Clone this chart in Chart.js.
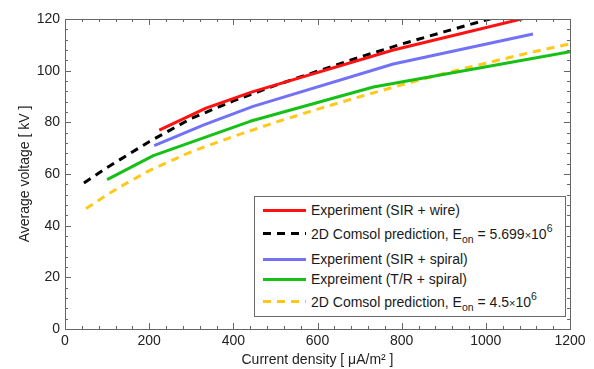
<!DOCTYPE html>
<html>
<head>
<meta charset="utf-8">
<script src="https://cdn.jsdelivr.net/npm/chart.js@4/dist/chart.umd.min.js"></script>
<style>
  html, body { margin: 0; padding: 0; background: #fff; }
  #wrap { position: relative; width: 594px; height: 369px; font-family: "Liberation Sans", Arial, sans-serif; }
  #c { position: absolute; left: 0; top: 0; }
  #legend { position: absolute; left: 254px; top: 196px; width: 310px; height: 119px; border: 1px solid #6a6a6a; background: #fff; color: #1a1a1a; font-size: 14px; }
  .row { position: absolute; left: 0; height: 20px; width: 310px; }
  .sw { position: absolute; left: 8px; width: 43px; height: 3px; top: 8.5px; }
  .lbl { position: absolute; left: 56px; top: 1px; white-space: nowrap; line-height: 18px; }
  sub { font-size: 10.5px; vertical-align: -4px; line-height: 0; }
  sup { font-size: 10.5px; vertical-align: 7px; line-height: 0; }
  .times { font-size: 11px; }
</style>
</head>
<body>
<div id="wrap">
  <canvas id="c" width="594" height="369"></canvas>
  <div id="legend"></div>
</div>
<script>
// ---- data ----
const xTicks = [0, 200, 400, 600, 800, 1000, 1200];
const yTicks = [0, 20, 40, 60, 80, 100, 120];

const sirWireX = [224, 335, 445, 780, 1110];
const sirWireY = [77, 85.5, 91.8, 108, 121];

const comsol1X = [45, 100, 150, 200, 250, 300, 400, 500, 600, 700, 800, 900, 1000, 1100];
const comsol1Y = [56.5, 62.5, 67.5, 72.5, 77, 81.5, 88.3, 94.3, 99.8, 105.2, 110.3, 115, 119.6, 124];

const sirSpiralX = [212, 330, 447, 780, 1112];
const sirSpiralY = [71, 79, 86.2, 102.6, 114.2];

const trSpiralX = [100, 210, 440, 733, 1200];
const trSpiralY = [57.8, 67.1, 80.4, 93.7, 107.3];

const comsol2X = [50, 100, 150, 200, 300, 400, 500, 600, 700, 800, 900, 1000, 1100, 1200];
const comsol2Y = [46.6, 52, 56.8, 61.3, 68.6, 74.5, 80, 85.1, 89.9, 94.5, 98.9, 102.9, 106.8, 110.4];

const seriesNames = [
  'Experiment (SIR + wire)',
  '2D Comsol prediction, E<sub>on</sub> = 5.699<span class="times">×</span>10<sup>6</sup>',
  'Experiment (SIR + spiral)',
  'Expreiment (T/R + spiral)',
  '2D Comsol prediction, E<sub>on</sub> = 4.5<span class="times">×</span>10<sup>6</sup>'
];
const seriesColors = ['#ff1111', '#000000', '#7272f6', '#16c016', '#ffc81a'];
const seriesDashed = [false, true, false, false, true];

const xTitle = 'Current density [ μA/m² ]';
const yTitle = 'Average voltage [ kV ]';

// ---- build ----
function pts(xs, ys) { return xs.map((x, i) => ({ x: x, y: ys[i] })); }
const allX = [sirWireX, comsol1X, sirSpiralX, trSpiralX, comsol2X];
const allY = [sirWireY, comsol1Y, sirSpiralY, trSpiralY, comsol2Y];

const datasets = allX.map((xs, i) => ({
  label: seriesNames[i],
  data: pts(xs, allY[i]),
  borderColor: seriesColors[i],
  backgroundColor: seriesColors[i],
  borderWidth: 3,
  borderDash: seriesDashed[i] ? [8, 6] : [],
  pointRadius: 0,
  showLine: true,
  fill: false,
  tension: 0,
  borderCapStyle: 'butt',
  borderJoinStyle: 'round'
}));

const frameTicks = {
  id: 'frameTicks',
  afterDatasetsDraw(chart) {
    const { ctx, chartArea: a, scales } = chart;
    const xs = scales.x, ys = scales.y;
    ctx.save();
    ctx.strokeStyle = '#666';
    ctx.lineWidth = 1;
    ctx.beginPath();
    for (let v = 0; v <= 1200; v += 40) {
      const px = Math.round(xs.getPixelForValue(v)) + 0.5;
      const len = (v % 200 === 0) ? 6 : 3;
      ctx.moveTo(px, a.bottom); ctx.lineTo(px, a.bottom - len);
      ctx.moveTo(px, a.top); ctx.lineTo(px, a.top + len);
    }
    for (let v = 0; v <= 120; v += 4) {
      const py = Math.round(ys.getPixelForValue(v)) + 0.5;
      const len = (v % 20 === 0) ? 6 : 3;
      ctx.moveTo(a.left, py); ctx.lineTo(a.left + len, py);
      ctx.moveTo(a.right, py); ctx.lineTo(a.right - len, py);
    }
    ctx.stroke();
    ctx.strokeRect(Math.round(a.left) + 0.5, Math.round(a.top) + 0.5, Math.round(a.right - a.left), Math.round(a.bottom - a.top));
    ctx.restore();
  }
};

const font = { family: '"Liberation Sans", Arial, sans-serif', size: 14 };

new Chart(document.getElementById('c'), {
  type: 'scatter',
  data: { datasets },
  options: {
    responsive: false,
    animation: false,
    devicePixelRatio: 1,
    layout: { padding: { top: 19, right: 24, bottom: 0, left: 0 } },
    plugins: { legend: { display: false }, tooltip: { enabled: false } },
    scales: {
      x: {
        type: 'linear', min: 0, max: 1200,
        afterBuildTicks: s => { s.ticks = xTicks.map(v => ({ value: v })); },
        afterFit: s => { s.height = 40; s.paddingLeft = 0; s.paddingRight = 0; },
        grid: { display: false, drawTicks: false },
        border: { display: false },
        ticks: { color: '#222', font, padding: 4, maxRotation: 0, autoSkip: false, callback: v => String(v) },
        title: { display: true, text: xTitle, color: '#222', font, padding: { top: 3, bottom: 0 } }
      },
      y: {
        type: 'linear', min: 0, max: 120,
        afterBuildTicks: s => { s.ticks = yTicks.map(v => ({ value: v })); },
        afterFit: s => { s.width = 65; s.paddingTop = 0; s.paddingBottom = 0; },
        grid: { display: false, drawTicks: false },
        border: { display: false },
        ticks: { color: '#222', font, padding: 5, autoSkip: false, callback: v => String(v) },
        title: { display: true, text: yTitle, color: '#222', font, padding: { top: 17, bottom: 0 } }
      }
    }
  },
  plugins: [frameTicks]
});

// ---- legend (HTML overlay inside plot area) ----
const rowTops = [3, 26.5, 52, 72, 94.5];
const leg = document.getElementById('legend');
seriesNames.forEach((name, i) => {
  const row = document.createElement('div');
  row.className = 'row';
  row.style.top = rowTops[i] + 'px';
  const sw = document.createElement('div');
  sw.className = 'sw';
  if (seriesDashed[i]) {
    sw.style.background = 'repeating-linear-gradient(to right, ' + seriesColors[i] + ' 0 8px, transparent 8px 14px)';
  } else {
    sw.style.background = seriesColors[i];
  }
  const lb = document.createElement('div');
  lb.className = 'lbl';
  lb.innerHTML = name;
  row.appendChild(sw);
  row.appendChild(lb);
  leg.appendChild(row);
});
</script>
</body>
</html>
